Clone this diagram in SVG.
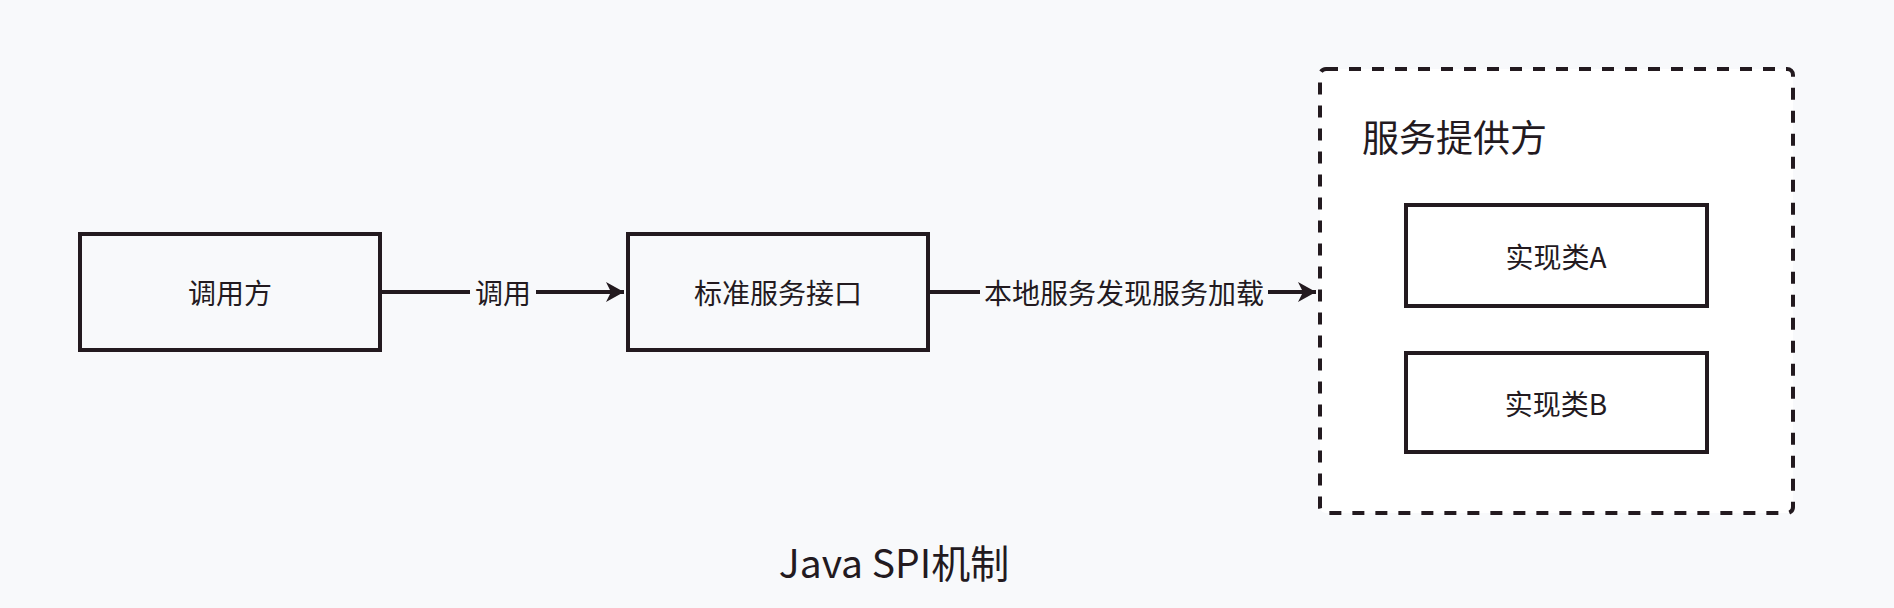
<svg xmlns="http://www.w3.org/2000/svg" width="1894" height="608" viewBox="0 0 1894 608">
  <style>
    .box { fill: #f8f9fb; stroke: #231a1f; stroke-width: 4; }
    .inner { fill: #ffffff; stroke: #231a1f; stroke-width: 4; }
    .group { fill: #ffffff; stroke: #231a1f; stroke-width: 4; stroke-dasharray: 12 11; }
    .txt { font-family: "Noto Sans CJK SC", "Noto Sans", sans-serif; fill: #231a1f; text-anchor: middle; dominant-baseline: central; }
    .lbl { font-size: 28px; }
    .edge { stroke: #231a1f; stroke-width: 4; fill: none; }
  </style>
  <defs>
    <marker id="arrow" viewBox="0 0 18 20" refX="18" refY="10" markerWidth="18" markerHeight="20" orient="auto" markerUnits="userSpaceOnUse">
      <path d="M0,0 L18,10 L0,20 L5,10 Z" fill="#231a1f"/>
    </marker>
  </defs>
  <rect width="1894" height="608" fill="#f8f9fb"/>

  <g id="provider">
    <rect class="group" x="1320" y="69" width="473" height="444" rx="6"/>
    <text class="txt" x="1362" y="136" style="text-anchor:start;font-size:37px">服务提供方</text>
  </g>
  <g id="caller">
    <rect class="box" x="80" y="234" width="300" height="116"/>
    <text class="txt lbl" x="230" y="292">调用方</text>
  </g>
  <g id="interface">
    <rect class="box" x="628" y="234" width="300" height="116"/>
    <text class="txt lbl" x="778" y="292">标准服务接口</text>
  </g>
  <g id="implA">
    <rect class="inner" x="1406" y="205" width="301" height="101"/>
    <text class="txt lbl" x="1556" y="256">实现类A</text>
  </g>
  <g id="implB">
    <rect class="inner" x="1406" y="353" width="301" height="99"/>
    <text class="txt lbl" x="1556" y="403">实现类B</text>
  </g>

  <g id="connectors">
    <line class="edge" x1="382" y1="292" x2="470" y2="292"/>
    <line class="edge" x1="536" y1="292" x2="624" y2="292" marker-end="url(#arrow)"/>
    <text class="txt lbl" x="503" y="292">调用</text>
    <line class="edge" x1="930" y1="292" x2="980" y2="292"/>
    <line class="edge" x1="1268" y1="292" x2="1316" y2="292" marker-end="url(#arrow)"/>
    <text class="txt lbl" x="1124" y="292">本地服务发现服务加载</text>
  </g>

  <text id="title" class="txt" x="894" y="561" style="font-size:39px">Java SPI机制</text>
</svg>
